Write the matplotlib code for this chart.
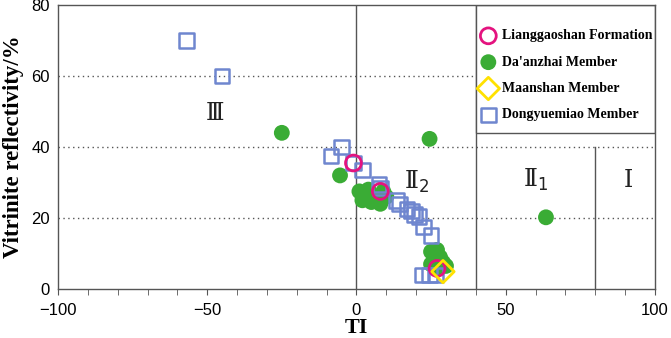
import matplotlib.pyplot as plt
from matplotlib.patches import Rectangle
from matplotlib.ticker import MultipleLocator

# ---- data ----
lgs_ti = [-1, 8, 27]
lgs_ro = [35.5, 27.5, 5.8]

daz_ti = [-25, -5.5, 24.5, 63.5,
          1, 2, 4, 5, 6, 7, 8, 9, 10, 3,
          25, 27, 28, 26, 29, 25, 30, 27]
daz_ro = [44, 32, 42.3, 20.2,
          27.5, 25, 28, 24.5, 26, 25, 24, 27.5, 26, 26.5,
          10.5, 11, 9, 8, 7.5, 7, 6.5, 6]

mas_ti = [29]
mas_ro = [4.9]

dym_ti = [-57, -45, -8.5, -5, -1, 2, 7.5, 8, 13.5, 14.5, 17, 18.5, 19.5,
          21, 22.5, 25, 22, 24.5, 26.5]
dym_ro = [70, 60, 37.5, 40, 35.5, 33.5, 29.5, 28.5, 25, 24, 22.5, 22, 21,
          20.5, 17.5, 15, 4, 4, 4]

# ---- figure ----
fig = plt.figure(figsize=(6.71, 3.38), dpi=100)
ax = fig.add_axes([0.0864, 0.145, 0.8896, 0.840])

grey = "#555555"
dot = (0, (1, 2.5))

# zone boundaries
ax.plot([-100, 40], [60, 60], color=grey, lw=1, ls=dot, zorder=1)
ax.plot([-100, 100], [40, 40], color=grey, lw=1, ls=dot, zorder=1)
ax.plot([-100, 100], [20, 20], color=grey, lw=1, ls=dot, zorder=1)
ax.plot([0, 0], [0, 80], color=grey, lw=1, zorder=1)
ax.plot([40, 40], [0, 80], color=grey, lw=1, zorder=1)
ax.plot([80, 80], [0, 40], color=grey, lw=1, zorder=1)

# legend box
ax.add_patch(Rectangle((40, 44), 60, 36, facecolor="white", edgecolor=grey,
                       lw=1, zorder=2))

ax.scatter(lgs_ti, lgs_ro, s=130, facecolor="none", edgecolor="#e4137f",
           lw=2, zorder=5, label="Lianggaoshan Formation")
ax.scatter(daz_ti, daz_ro, s=130, color="#3aac35", edgecolor="none",
           zorder=3, label="Da'anzhai Member")
ax.scatter(mas_ti, mas_ro, s=130, marker="D", facecolor="none",
           edgecolor="#ffe100", lw=2, zorder=6, label="Maanshan Member")
ax.scatter(dym_ti, dym_ro, s=110, marker="s", facecolor="none",
           edgecolor="#6f86cf", lw=1.8, zorder=4, label="Dongyuemiao Member")

# zone labels
rom = dict(family="DejaVu Serif", fontsize=17, ha="center", va="center",
           color="#222222")
ax.text(-47.5, 49.5, "Ⅲ", **rom)
ax.text(20.3, 30.2, "Ⅱ$_{2}$", **rom)
ax.text(60, 30.7, "Ⅱ$_{1}$", **rom)
ax.text(91, 30.7, "Ⅰ", **rom)

ax.set_xlim(-100, 100)
ax.set_ylim(0, 80)
ax.xaxis.set_major_locator(MultipleLocator(50))
ax.xaxis.set_minor_locator(MultipleLocator(10))
ax.yaxis.set_major_locator(MultipleLocator(20))
ax.tick_params(axis="x", which="both", direction="out", length=4,
               color=grey, labelsize=12, pad=6)
ax.tick_params(axis="y", length=0, labelsize=12, pad=6)
for lab in ax.get_xticklabels() + ax.get_yticklabels():
    lab.set_family("Liberation Sans")
for sp in ax.spines.values():
    sp.set_color(grey)
    sp.set_linewidth(1)

ax.set_xlabel("TI", family="Liberation Serif", fontweight="bold",
              fontsize=16, labelpad=0)
ax.set_ylabel("Vitrinite reflectivity/%", family="Liberation Serif",
              fontweight="bold", fontsize=16.5, labelpad=5)

leg = ax.legend(loc="upper left", bbox_to_anchor=(0.707, 0.914),
                borderaxespad=0, borderpad=0, frameon=False,
                prop={"family": "Liberation Serif", "weight": "bold",
                      "size": 10},
                handletextpad=0.35, labelspacing=0.96, handlelength=1.2)
leg.set_zorder(7)

plt.savefig("out.png", dpi=100)
